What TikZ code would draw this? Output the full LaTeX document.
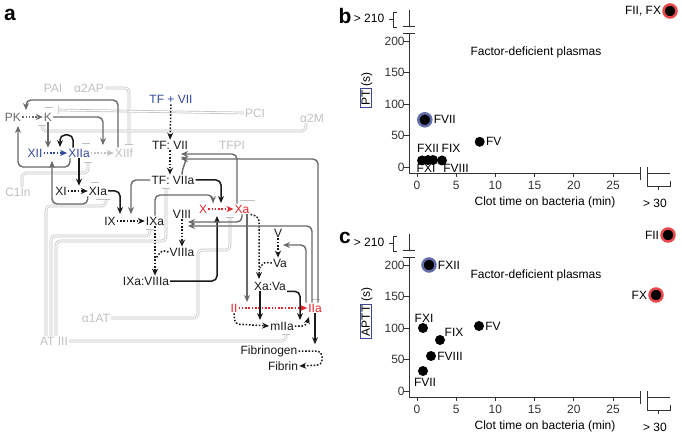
\documentclass[tikz,border=0pt]{standalone}
\usepackage{fontspec}
\setmainfont{Liberation Sans}
\setsansfont{Liberation Sans}
\usepackage{tikz}
\usetikzlibrary{arrows.meta}

\definecolor{facblue}{RGB}{50,72,158}
\definecolor{facred}{RGB}{228,38,44}
\definecolor{inhgray}{RGB}{192,192,192}
\definecolor{fbgray}{RGB}{105,105,105}
\definecolor{halo}{RGB}{60,72,150}

% frame, ticks and breaks of one plot
\newcommand{\plotframe}{%
  \draw[axis] (409,33) -- (409,173) -- (640,173);
  \draw[axis] (647,173) -- (670,173);
  \draw[axis] (640,167) -- (640,180);
  \draw[axis] (647,167) -- (647,186) -- (670,186) -- (670,181);
  \draw[axis] (658,186) -- (658,190);
  \draw[axis] (409,10) -- (409,26);
  \draw[axis] (403,26) -- (415,26);
  \draw[axis] (403,33) -- (415,33);
  \draw[axis] (397,12) -- (393,12) -- (393,27) -- (397,27);
  \draw[axis] (389,19) -- (393,19);
  \foreach \v in {0,50,...,200}
    \draw[axis] (404,{167-0.63*\v}) -- (409,{167-0.63*\v}) node[left=3pt] {\v};
  \foreach \t in {0,5,...,25}
    \draw[axis] ({417+7.84*\t},173) -- ({417+7.84*\t},177) node[below=3pt] {\t};
}

\begin{document}
\begin{tikzpicture}[->,>={Stealth[length=7pt,width=6pt]},x=1pt,y=-1pt,
    font=\fontsize{12}{14}\selectfont]
  \tikzstyle{every node}=[inner sep=1pt]
  \tikzstyle{fac}=[text=black!90]
  \tikzstyle{inh}=[text=inhgray]
  \tikzstyle{conv}=[->, dash pattern=on 1.6pt off 1.7pt, line width=1.5pt, black!90]
  \tikzstyle{act}=[->, line width=1.5pt, black!90, rounded corners=5pt]
  \tikzstyle{fb}=[->, line width=1.4pt, fbgray, rounded corners=5pt]
  \tikzstyle{inhib}=[-{Bar[width=8pt]}, inhgray, line width=0.7pt, double=white,
                     double distance=1.2pt, rounded corners=4pt]
  \tikzstyle{axis}=[-, line width=0.8pt, black!80]
  \tikzstyle{dot}=[circle, fill=black, inner sep=0pt, minimum size=10pt]
  \tikzstyle{bluedot}=[dot, draw=halo!80, line width=2.5pt, minimum size=13pt]
  \tikzstyle{reddot}=[dot, draw=facred!85, line width=2.5pt, minimum size=13pt]
  \tikzstyle{panel}=[font=\fontsize{21}{21}\bfseries\selectfont]
  \useasboundingbox (0,0) rectangle (682,438);

  % ---------- a: pathway ----------
  \node[panel] (alab) at (10,15) {a};
  \node[inh] (pai) at (53,88) {PAI};
  \node[inh] (aap) at (89,88) {α2AP};
  \node[fac,text=facblue] (tfplus) at (171,99) {TF + VII};
  \node[inh] (pci) at (255,113) {PCI};
  \node[inh] (amac) at (312,118) {α2M};
  \node[fac,text=fbgray] (pk) at (13,117) {PK};
  \node[fac,text=fbgray] (k) at (48,117) {K};
  \node[fac] (tfvii) at (170,145) {TF: VII};
  \node[inh] (tfpi) at (232,145) {TFPI};
  \node[fac,text=facblue] (xii) at (35,153) {XII};
  \node[fac,text=facblue] (xiia) at (79,153) {XIIa};
  \node[inh] (xiif) at (124,153) {XIIf};
  \node[fac] (tfviia) at (173,180) {TF: VIIa};
  \node[inh] (cin) at (18,192) {C1In};
  \node[fac] (xi) at (61,191) {XI};
  \node[fac] (xia) at (98,191) {XIa};
  \node[fac,text=facred] (x) at (203,209) {X};
  \node[fac,text=facred] (xa) at (242,209) {Xa};
  \node[fac] (ix) at (110,221) {IX};
  \node[fac] (ixa) at (155,221) {IXa};
  \node[fac] (viii) at (182,214) {VIII};
  \node[fac] (v) at (278,233) {V};
  \node[fac] (viiia) at (182,252) {VIIIa};
  \node[fac] (va) at (280,263) {Va};
  \node[fac] (ixaviiia) at (146,281) {IXa:VIIIa};
  \node[fac] (xava) at (270,286) {Xa:Va};
  \node[inh] (aat) at (96,318) {α1AT};
  \node[fac,text=facred] (ii) at (234,308) {II};
  \node[fac,text=facred] (iia) at (315,308) {IIa};
  \node[fac] (miia) at (282,326) {mIIa};
  \node[inh] (at3) at (54,341) {AT III};
  \node[fac] (fbg) at (269,351) {Fibrinogen};
  \node[fac] (fbn) at (283,366) {Fibrin};

  % inhibitors
  \draw[inhib] ([xshift=-4pt]pai.south) -- (49,108);
  \draw[inhib] ([xshift=-3pt]aap.south) -- (86,144);
  \draw[inhib] ([xshift=6pt]aap.south) -- (95,183);
  \draw[inhib] (aap.east) -| (129,145);
  \draw[inhib] (pci.west) -- (58,110);
  \draw[inhib] ([xshift=-4pt]pci.south) -- (251,201);
  \draw[inhib] ([xshift=-6pt]amac.south) |- (42,131) -- (42,125);
  \draw[inhib] ([xshift=4pt]amac.south) -- (316,300);
  \draw[inhib] ([xshift=12pt]tfpi.south) -- (244,201);
  \draw[inhib] ([xshift=4pt]cin.north) |- (88,173) -- (88,162);
  \draw[inhib] ([xshift=4pt]aat.north) -- (100,199);
  \draw[inhib] (aat.east) -| (198,250) -| (230,217);
  \draw[inhib] ([xshift=-8pt]at3.north) |- (106,206) -- (106,199);
  \draw[inhib] ([xshift=-3pt]at3.north) |- (150,236) -- (150,229);
  \draw[inhib] ([xshift=2pt]at3.north) |- (166,241) -- (166,188);
  \draw[inhib] (at3.east) -| (286,334);

  % conversions
  \draw[conv,fbgray] (pk) -- (k);
  \draw[conv,facblue] (xii) -- (xiia);
  \draw[conv,inhgray] (xiia) -- (xiif);
  \draw[conv] (xi) -- (xia);
  \draw[conv] (ix) -- (ixa);
  \draw[conv] (tfplus) -- (tfvii);
  \draw[conv] (tfvii.south) -- (tfvii.south |- tfviia.north);
  \draw[conv,facred] (x) -- (xa);
  \draw[conv] (viii) -- (viiia);
  \draw[conv] (v) -- (v |- va.north);
  \draw[conv] (ixa.south) -- (ixa.south |- ixaviiia.north);
  \draw[conv,-] (viiia.west) .. controls (162,250) .. (156,258);
  \draw[conv,rounded corners=4pt] (xa.south east) -- (259,217) -- (259,279);
  \draw[conv,-] (va.west) .. controls (264,262) .. (260,268);
  \draw[conv,facred] (ii) -- (iia);
  \draw[conv,rounded corners=4pt] (ii.south) -- (235,324) -- (miia.west);
  \draw[conv,rounded corners=4pt] (miia.east) -- (306,326) -- (309,317);
  \draw[conv,rounded corners=5pt] (fbg.east) -- (322,351) -- (322,365) -- (fbn.east);

  % feedback and enzymes
  \draw[fb] (k) -- (k |- xii.north);
  \draw[fb] (k.east) -| (103,145);
  \draw[fb] ([xshift=-6pt]xiif.north) |- (26,100) -- (26,110);
  \draw[fb] ([xshift=-9pt]xiia.south) |- (18,167) -- (18,126);
  \draw[fb] (xia.south west) |- (52,204) -- (52,161);
  \draw[act] ([xshift=-6pt]xiia.north) |- (60,135) -- (60,147);
  \draw[act] (xiia) -- (xiia |- xi.north);
  \draw[act] (xia.east) -| (120,214);
  \draw[fb] (tfviia.west) -| (131,214);
  \draw[act] (tfviia.east) -| (221,203);
  \draw[fb] (ixa.north) |- (213,195) -- (213,203);
  \draw[act] (ixaviiia.east) -| (217,216);
  \draw[fb] ([xshift=-5pt]xa.north) |- (181,154);
  \draw[fb] ([xshift=3pt]iia.north) |- (181,159);
  \draw[fb] ([xshift=9pt]tfviia.north) to[out=90,in=-20] (181,157);
  \draw[fb] (xa.south) |- (188,222);
  \draw[fb] ([xshift=-3pt]iia.north) |- (188,226);
  \draw[fb] ([xshift=-9pt]iia.north) |- (283,245);
  \draw[fb] ([xshift=5pt]xa.south) -- (247,302);
  \draw[act] ([xshift=-10pt]xava.south) -- (260,320);
  \draw[act] (xava.south east) -| (300,320);
  \draw[act] (iia.south) -- (iia.south |- fbg.north);

  % ---------- b: PT ----------
  \node[panel] (blab) at (345,16) {b};
  \plotframe
  \node (bgt) at (369,18) {> 210};
  \node (bgx) at (655,203) {> 30};
  \node (btx) at (545,202) {Clot time on bacteria (min)};
  \node (btit) at (536,52) {Factor-deficient plasmas};
  \node[rotate=90] (bty) at (366,90)
    {\setlength{\fboxsep}{1.5pt}\setlength{\fboxrule}{0.5pt}\fcolorbox{halo}{white}{PT}\,(s)};
  \node[bluedot] (pfvii) at (424.8,119.8) {};
  \node[dot] (pfv) at (479.7,141.8) {};
  \node[dot] (pfxi) at (422,160.5) {};
  \node[dot] (pfxii) at (428,160) {};
  \node[dot] (pfviii) at (433,160) {};
  \node[dot] (pfix) at (442,160.5) {};
  \node[reddot] (pfiix) at (670,11) {};
  \node[right] (lfvii) at (pfvii.east) {FVII};
  \node[right] (lfv) at (pfv.east) {FV};
  \node (lfxii) at (428,148) {FXII};
  \node (lfix) at (451,148) {FIX};
  \node (lfxi) at (426,168) {FXI};
  \node (lfviii) at (456,168) {FVIII};
  \node[left] (lfiix) at (pfiix.west) {FII, FX};

  % ---------- c: APTT ----------
  \begin{scope}[shift={(0,224)}]
    \node[panel] (clab) at (345,14) {c};
    \plotframe
    \node (cgt) at (369,18) {> 210};
    \node (cgx) at (655,203) {> 30};
    \node (ctx) at (545,202) {Clot time on bacteria (min)};
    \node (ctit) at (536,51) {Factor-deficient plasmas};
    \node[rotate=90] (cty) at (366,89)
      {\setlength{\fboxsep}{1.5pt}\setlength{\fboxrule}{0.5pt}\fcolorbox{halo}{white}{APTT}\,(s)};
    \node[reddot] (qfii) at (668,11) {};
    \node[bluedot] (qfxii) at (429,41) {};
    \node[reddot] (qfx) at (656,71) {};
    \node[dot] (qfxi) at (423,104) {};
    \node[dot] (qfv) at (479,102) {};
    \node[dot] (qfix) at (440,116) {};
    \node[dot] (qfviii) at (431,132) {};
    \node[dot] (qfvii) at (423,147) {};
    \node[left] (lqfii) at (qfii.west) {FII};
    \node[right] (lqfxii) at (qfxii.east) {FXII};
    \node[left] (lqfx) at (qfx.west) {FX};
    \node (lqfxi) at (424,94) {FXI};
    \node[right] (lqfv) at (qfv.east) {FV};
    \node (lqfix) at (454,108) {FIX};
    \node[right] (lqfviii) at (qfviii.east) {FVIII};
    \node (lqfvii) at (425,158) {FVII};
  \end{scope}
\end{tikzpicture}
\end{document}
